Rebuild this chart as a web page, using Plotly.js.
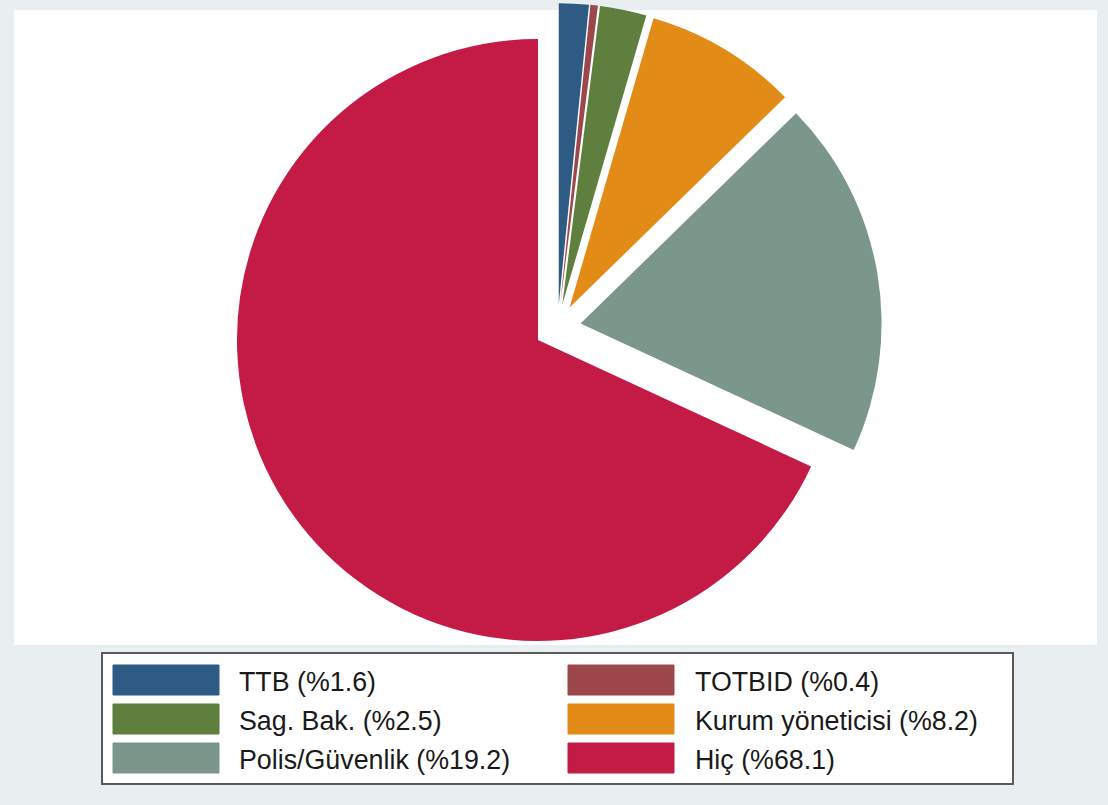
<!DOCTYPE html>
<html>
<head>
<meta charset="utf-8">
<script src="https://cdn.plot.ly/plotly-3.0.1.min.js"></script>
<style>html,body{margin:0;padding:0;background:#e9eff1;}#chart{width:1108px;height:805px;}</style>
</head>
<body>
<div id="chart"></div>
<script>
// ---- data ----
const categories = ["TTB", "TOTBID", "Sag. Bak.", "Kurum yöneticisi", "Polis/Güvenlik", "Hiç"];
const values = [1.6, 0.4, 2.5, 8.2, 19.2, 68.1];
const colors = ["#2d5b83", "#9b474c", "#5e7f3d", "#e38b17", "#7b968b", "#c31b45"];

// ---- geometry helpers (pixels -> paper) ----
const W = 1108, H = 805;
const px = x => x / W;
const py = y => 1 - y / H;

const pullFrac = 0.0774;
const pulls = values.map(() => pullFrac);

const pie = {
  type: 'pie',
  values: values,
  labels: categories,
  sort: false,
  direction: 'clockwise',
  rotation: 0,
  pull: pulls,
  marker: { colors: colors, line: { width: 0 } },
  textinfo: 'none',
  hoverinfo: 'none',
  showlegend: false,
  domain: { x: [px(233.3), px(881.9)], y: [py(651.7), py(3.1)] }
};

const shapes = [
  // white plot region
  { type: 'rect', xref: 'paper', yref: 'paper', layer: 'below',
    x0: px(14), x1: px(1097), y0: py(645), y1: py(10),
    fillcolor: '#ffffff', line: { width: 0 } },
  // legend box
  { type: 'rect', xref: 'paper', yref: 'paper', layer: 'below',
    x0: px(102), x1: px(1013), y0: py(784), y1: py(653),
    fillcolor: '#ffffff', line: { width: 2, color: '#5a5a5a' } }
];
const annotations = [];
const swX = [113, 568];
const txtX = [237, 693];
const rowTop = [665, 704, 743];
categories.forEach((c, i) => {
  const col = i % 2, row = Math.floor(i / 2);
  shapes.push({ type: 'rect', xref: 'paper', yref: 'paper',
    x0: px(swX[col]), x1: px(swX[col] + 106), y0: py(rowTop[row] + 30), y1: py(rowTop[row]),
    fillcolor: colors[i], line: { width: 1, color: colors[i] } });
  annotations.push({ xref: 'paper', yref: 'paper', x: px(txtX[col]), y: py(rowTop[row] + 17),
    xanchor: 'left', yanchor: 'middle', showarrow: false,
    text: c + ' (%' + values[i].toFixed(1) + ')',
    font: { family: 'Liberation Sans, Arial, sans-serif', size: 26.8, color: '#1a1a1a' } });
});

const layout = {
  width: W, height: H,
  margin: { l: 0, r: 0, t: 0, b: 0, pad: 0 },
  paper_bgcolor: '#e9eff1',
  plot_bgcolor: '#ffffff',
  showlegend: false,
  shapes: shapes,
  annotations: annotations
};

Plotly.newPlot('chart', [pie], layout, { staticPlot: true, displayModeBar: false });
</script>
</body>
</html>
